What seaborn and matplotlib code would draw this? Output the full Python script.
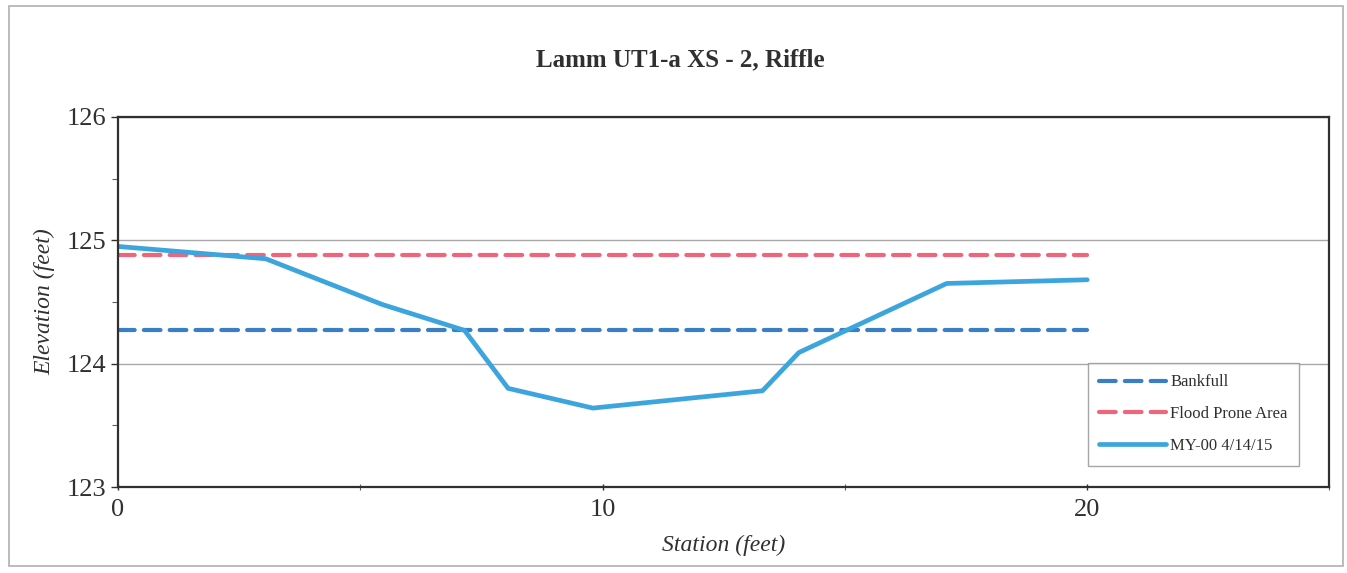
import numpy as np
import pandas as pd
import matplotlib.pyplot as plt
import matplotlib.patches as mpatches
from matplotlib.ticker import MultipleLocator
import seaborn as sns

# --- data ---
station_survey = [0, 3.05, 5.45, 7.15, 8.05, 9.8, 13.3, 14.05, 17.1, 20]
elev_survey = [124.95, 124.85, 124.48, 124.27, 123.80, 123.64, 123.78, 124.09, 124.65, 124.68]

station_bankfull = [0, 20]
elev_bankfull = [124.27, 124.27]

station_flood = [0, 20]
elev_flood = [124.88, 124.88]

sns.set_theme(style="white")
plt.rcParams['font.family'] = ['Liberation Serif', 'DejaVu Serif']

fig = plt.figure(figsize=(13.47, 5.73), dpi=100)
ax = fig.add_axes([0.0876, 0.150, 0.8994, 0.646])

# outer chart-area border
fig.patches.append(mpatches.Rectangle((0.007, 0.012), 0.99, 0.978, transform=fig.transFigure,
                                      fill=False, edgecolor='#b0b0b0', linewidth=1.2))

dash = (0, (4.0, 2.2))
sns.lineplot(x=station_bankfull, y=elev_bankfull, ax=ax, color='#3a7ec6', linewidth=3,
             linestyle=dash, dash_capstyle='round', label='Bankfull')
sns.lineplot(x=station_flood, y=elev_flood, ax=ax, color='#f0647c', linewidth=3,
             linestyle=dash, dash_capstyle='round', label='Flood Prone Area')
sns.lineplot(x=station_survey, y=elev_survey, ax=ax, color='#3da5dd', linewidth=3.4,
             sort=False, label='MY-00 4/14/15')

ax.set_xlim(0, 25)
ax.set_ylim(123, 126)
ax.xaxis.set_major_locator(MultipleLocator(10))
ax.xaxis.set_minor_locator(MultipleLocator(5))
ax.yaxis.set_major_locator(MultipleLocator(1))
ax.yaxis.set_minor_locator(MultipleLocator(0.5))
ax.grid(axis='y', which='major', color='#a8a8a8', linewidth=1)
ax.set_axisbelow(True)

for s in ax.spines.values():
    s.set_color('#303030')
    s.set_linewidth(1.6)

ax.tick_params(axis='both', which='major', labelsize=19, colors='#303030', length=5, width=1)
ax.tick_params(axis='y', which='both', direction='out', left=True)
ax.tick_params(axis='x', which='both', direction='inout', bottom=True)
ax.tick_params(axis='both', which='minor', length=4, width=0.8, color='#606060')
ax.tick_params(axis='x', pad=6)

ax.set_xlabel('Station (feet)', fontsize=17, fontstyle='italic', color='#303030', labelpad=10)
ax.set_ylabel('Elevation (feet)', fontsize=17, fontstyle='italic', color='#303030', labelpad=8)
fig.suptitle('Lamm UT1-a XS - 2, Riffle', x=0.505, y=0.915, fontsize=18, fontweight='bold', color='#303030')

leg = ax.legend(loc='lower right', bbox_to_anchor=(0.982, 0.035), fontsize=12, frameon=True,
                fancybox=False, edgecolor='#909090', handlelength=4.0, labelspacing=0.95,
                borderpad=0.7, handletextpad=0.25)
leg.get_frame().set_linewidth(1.0)
for t in leg.get_texts():
    t.set_color('#303030')

fig.savefig('out.png', dpi=100)
